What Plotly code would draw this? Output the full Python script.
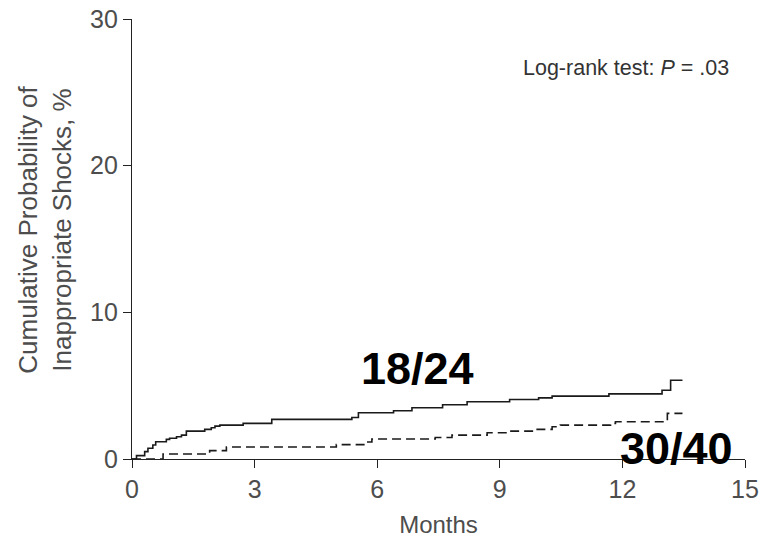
import plotly.graph_objects as go

# Kaplan-Meier style cumulative incidence (step curves), months vs %
group_a_months = [0, 0.11, 0.31, 0.39, 0.51, 0.58, 0.84, 0.92, 1.09, 1.21, 1.33, 1.78, 1.94,
                  2.03, 2.15, 2.72, 3.42, 5.38, 5.54, 6.40, 6.85, 7.60, 8.20, 9.24, 9.95,
                  10.28, 11.67, 12.97, 13.18, 13.47]
group_a_pct = [0, 0.23, 0.50, 0.73, 0.95, 1.18, 1.34, 1.41, 1.52, 1.63, 1.90, 2.02, 2.13,
               2.24, 2.31, 2.43, 2.70, 2.83, 3.15, 3.29, 3.49, 3.70, 3.90, 4.06, 4.17,
               4.29, 4.44, 4.69, 5.37, 5.37]

group_b_months = [0, 0.76, 1.90, 2.31, 5.00, 5.74, 5.87, 7.42, 7.83, 8.69, 9.18, 9.83,
                  10.28, 10.48, 11.71, 11.83, 13.10, 13.47]
group_b_pct = [0, 0.34, 0.57, 0.82, 0.98, 1.16, 1.36, 1.47, 1.63, 1.79, 1.90, 2.02,
               2.20, 2.31, 2.43, 2.54, 3.11, 3.11]

x_ticks = [0, 3, 6, 9, 12, 15]
y_ticks = [0, 10, 20, 30]

label_a = "18/24"
label_b = "30/40"
test_text = "Log-rank test: <i>P</i> = .03"

tick_color = "#4d4d4d"
font_family = "Arial, Liberation Sans, Helvetica, sans-serif"

fig = go.Figure()
fig.add_trace(go.Scatter(
    x=group_a_months, y=group_a_pct, mode="lines",
    line=dict(shape="hv", color="#1a1a1a", width=1.6),
    showlegend=False, hoverinfo="skip"))
fig.add_trace(go.Scatter(
    x=group_b_months, y=group_b_pct, mode="lines",
    line=dict(shape="hv", color="#1a1a1a", width=1.6, dash="9px,5px"),
    showlegend=False, hoverinfo="skip"))

fig.update_layout(
    width=768, height=538,
    margin=dict(l=132, r=23, t=19, b=79, autoexpand=False),
    paper_bgcolor="white", plot_bgcolor="white",
    font=dict(family=font_family, color=tick_color, size=25),
    xaxis=dict(
        range=[0, 15], tickvals=x_ticks, ticks="outside", ticklen=8, tickwidth=1.2,
        tickcolor="#222", showline=True, linecolor="#222", linewidth=1.4,
        showgrid=False, zeroline=False, automargin=False,
        tickfont=dict(size=25, color=tick_color),
        title=dict(text="Months", font=dict(size=24, color=tick_color), standoff=16),
    ),
    yaxis=dict(
        range=[0, 30], tickvals=y_ticks, ticks="outside", ticklen=8, tickwidth=1.2,
        tickcolor="#222", showline=True, linecolor="#222", linewidth=1.4,
        showgrid=False, zeroline=False, automargin=False,
        tickfont=dict(size=25, color=tick_color),
    ),
)

fig.add_annotation(
    xref="paper", yref="paper", x=-0.141, y=0.52,
    text="Cumulative Probability of<br>Inappropriate Shocks, %",
    textangle=-90, showarrow=False, xanchor="center", yanchor="middle",
    font=dict(size=26, color=tick_color, family=font_family))

fig.add_annotation(
    x=12.08, y=26.65, text=test_text, showarrow=False,
    xanchor="center", yanchor="middle",
    font=dict(size=21.5, color="#333", family=font_family))

fig.add_annotation(
    x=6.99, y=6.2, text=f"<b>{label_a}</b>", showarrow=False,
    xanchor="center", yanchor="middle",
    font=dict(size=45, color="black", family=font_family))
fig.add_annotation(
    x=13.32, y=0.75, text=f"<b>{label_b}</b>", showarrow=False,
    xanchor="center", yanchor="middle",
    font=dict(size=45, color="black", family=font_family))

fig.write_html("out.html")
